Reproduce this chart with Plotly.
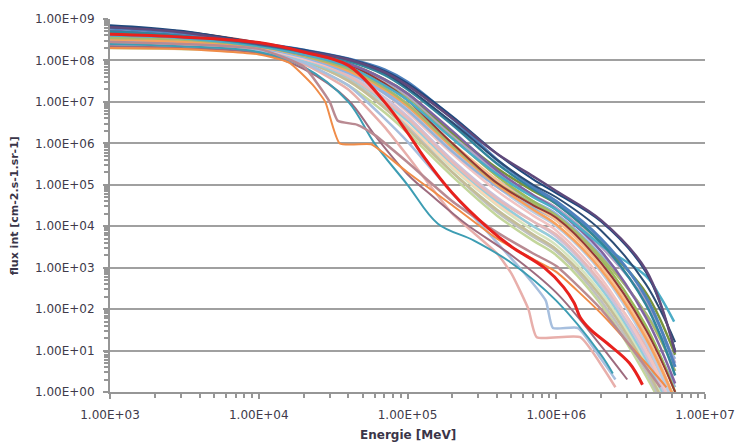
import plotly.graph_objects as go

# Integral flux spectra (cm-2.s-1.sr-1) versus energy (MeV), one curve per event
E_GRID = [1e3, 3e3, 1e4, 2e4, 4e4, 7e4, 1e5, 2e5, 4e5, 7e5, 1e6, 2e6, 4e6, 6.3e6]

flux_navy = [7.1e8, 5.2e8, 2.6e8, 1.8e8, 1.1e8, 5.6e7, 2.8e7, 4.5e6, 5.6e5, 1.35e5, 6.3e4, 1.3e4, 7.9e2, 10]
flux_purple = [6.3e8, 4.8e8, 2.5e8, 1.7e8, 1.05e8, 5.2e7, 2.5e7, 4.0e6, 5.6e5, 1.6e5, 7.1e4, 1.4e4, 8.9e2, 8.9]
flux_blue = [6.0e8, 4.6e8, 2.6e8, 1.8e8, 1.1e8, 6.0e7, 3.0e7, 4.0e6, 4.0e5, 8.9e4, 4.0e4, 5.0e3, 2.0e2, 4.0]
flux_darkteal = [5.0e8, 4.0e8, 2.4e8, 1.6e8, 9.5e7, 4.5e7, 2.0e7, 2.8e6, 3.2e5, 7.9e4, 3.5e4, 4.0e3, 1.3e2, 2.5]
flux_violet = [5.2e8, 4.0e8, 2.3e8, 1.4e8, 8.3e7, 3.5e7, 1.6e7, 2.0e6, 2.2e5, 5.6e4, 2.5e4, 2.5e3, 63, 1.6]
flux_green = [4.0e8, 3.3e8, 2.2e8, 1.4e8, 7.6e7, 2.8e7, 1.3e7, 1.4e6, 1.6e5, 4.0e4, 1.8e4, 1.6e3, 40, 1.0]
flux_peach = [3.5e8, 3.2e8, 2.1e8, 1.3e8, 6.6e7, 2.2e7, 8.9e6, 1.0e6, 1.3e5, 3.2e4, 1.4e4, 1.1e3, 25, 0.63]
flux_iceblue = [2.8e8, 2.6e8, 2.0e8, 1.2e8, 5.6e7, 1.8e7, 7.1e6, 7.1e5, 8.9e4, 2.2e4, 1.0e4, 7.9e2, 16, 0.4]
flux_rose = [3.2e8, 2.8e8, 2.0e8, 1.1e8, 5.0e7, 1.6e7, 5.6e6, 5.6e5, 7.1e4, 1.8e4, 7.9e3, 5.6e2, 10, 0.32]
flux_lavender = [2.5e8, 2.4e8, 1.9e8, 1.1e8, 4.5e7, 1.3e7, 4.5e6, 4.0e5, 5.0e4, 1.3e4, 5.6e3, 4.0e2, 7.9, 0.25]
flux_aqua = [2.8e8, 2.5e8, 1.9e8, 1.0e8, 4.0e7, 1.0e7, 3.5e6, 3.2e5, 4.0e4, 1.0e4, 4.5e3, 3.2e2, 6.3, 0.2]
flux_mint = [2.2e8, 2.1e8, 1.8e8, 1.0e8, 3.5e7, 8.9e6, 2.8e6, 2.5e5, 3.2e4, 7.9e3, 3.5e3, 2.5e2, 5.0, 0.16]
flux_tan = [2.5e8, 2.3e8, 1.7e8, 9.5e7, 3.2e7, 7.1e6, 2.2e6, 2.0e5, 2.5e4, 6.3e3, 2.8e3, 2.0e2, 4.0, 0.13]
flux_salmon = [2.8e8, 2.5e8, 1.9e8, 1.1e8, 4.2e7, 1.1e7, 4.0e6, 3.5e5, 4.5e4, 1.3e4, 6.3e3, 4.5e2, 13, 0.5]
flux_skyblue = [3.2e8, 2.8e8, 2.0e8, 1.3e8, 5.2e7, 1.6e7, 6.3e6, 6.3e5, 8.9e4, 2.8e4, 1.4e4, 1.3e3, 32, 1.3]
flux_olive = [3.5e8, 3.2e8, 2.2e8, 1.3e8, 6.3e7, 2.2e7, 8.9e6, 8.9e5, 1.1e5, 3.5e4, 1.8e4, 1.8e3, 79, 3.2]
flux_maroon = [6.6e8, 5.0e8, 2.7e8, 1.6e8, 7.9e7, 2.8e7, 1.1e7, 1.0e6, 1.1e5, 3.2e4, 1.6e4, 1.3e3, 32, 1.0]
flux_gray = [2.5e8, 2.3e8, 1.8e8, 1.0e8, 3.5e7, 7.9e6, 2.5e6, 2.0e5, 2.2e4, 5.6e3, 2.5e3, 1.6e2, 3.2, 0.1]
flux_lilac = [4.0e8, 3.5e8, 2.3e8, 1.4e8, 7.9e7, 3.2e7, 1.4e7, 1.6e6, 2.0e5, 5.6e4, 2.8e4, 3.2e3, 1.6e2, 5.0]
flux_orange = [3.2e8, 2.8e8, 2.1e8, 1.3e8, 5.6e7, 2.0e7, 7.9e6, 7.9e5, 1.0e5, 2.5e4, 1.1e4, 8.9e2, 20, 0.63]
flux_deepnavy = [6.3e8, 5.0e8, 2.6e8, 1.7e8, 1.05e8, 5.0e7, 2.2e7, 3.2e6, 4.0e5, 1.0e5, 5.0e4, 7.9e3, 4.0e2, 16]
flux_pistachio = [2.0e8, 1.9e8, 1.6e8, 8.3e7, 2.5e7, 5.6e6, 1.8e6, 1.6e5, 1.8e4, 4.5e3, 2.0e3, 1.3e2, 2.5, 0.1]
flux_cornflower = [2.8e8, 2.6e8, 2.0e8, 1.2e8, 5.0e7, 1.8e7, 7.9e6, 8.9e5, 1.3e5, 4.0e4, 2.0e4, 2.0e3, 79, 6.3]
flux_apricot = [2.0e8, 1.9e8, 1.7e8, 9.5e7, 3.2e7, 7.9e6, 2.8e6, 2.8e5, 3.5e4, 1.0e4, 4.5e3, 3.5e2, 10, 0.5]
flux_darkolive = [4.5e8, 3.8e8, 2.3e8, 1.5e8, 8.3e7, 3.5e7, 1.6e7, 1.8e6, 2.5e5, 7.1e4, 3.5e4, 4.0e3, 2.5e2, 7.9]

# Curves sampled on their own energy points
energy_cyan = [1e3, 3e3, 1e4, 2e4, 4e4, 7e4, 1e5, 2e5, 4e5, 7e5, 1e6, 2e6, 4e6, 5e6, 6.2e6]
flux_cyan = [4.0e8, 3.5e8, 2.2e8, 1.4e8, 7.1e7, 2.5e7, 1.1e7, 1.3e6, 1.8e5, 5.0e4, 2.5e4, 3.5e3, 6.3e2, 2.0e2, 50]

energy_orange_step = [1e3, 3e3, 1e4, 1.6e4, 2.3e4, 2.8e4, 3.5e4, 5.7e4, 7e4, 1e5, 2e5, 4e5, 7e5, 1e6, 2e6, 4e6, 5.5e6]
flux_orange_step = [2.0e8, 1.9e8, 1.4e8, 8.9e7, 2.6e7, 1.0e7, 1.0e6, 9.5e5, 5.6e5, 2.0e5, 3.2e4, 5.0e3, 1.6e3, 7.9e2, 79, 5.0, 1.3]

energy_mauve_step = [1e3, 3e3, 1e4, 2e4, 3e4, 3.4e4, 4.6e4, 6e4, 1e5, 2e5, 4e5, 7e5, 1e6, 2e6, 4e6, 5e6]
flux_mauve_step = [2.8e8, 2.5e8, 1.9e8, 7.1e7, 1.0e7, 3.5e6, 2.8e6, 1.6e6, 3.5e5, 4.0e4, 7.1e3, 2.2e3, 1.1e3, 1.0e2, 4.0, 1.3]

energy_teal_low = [1e3, 3e3, 1e4, 2e4, 4e4, 6e4, 1e5, 1.6e5, 2.8e5, 5e5, 1e6, 2e6, 2.4e6]
flux_teal_low = [2.5e8, 2.2e8, 1.6e8, 7.1e7, 1.0e7, 1.0e6, 1.0e5, 1.15e4, 4.5e3, 1.3e3, 1.6e2, 7.9, 2.8]

energy_plum_low = [1e3, 3e3, 1e4, 2e4, 4e4, 6e4, 1e5, 1.5e5, 2.5e5, 5e5, 1e6, 2e6, 3e6]
flux_plum_low = [2.2e8, 2.0e8, 1.5e8, 6.3e7, 1.1e7, 1.6e6, 1.8e5, 5.0e4, 1.1e4, 2.0e3, 2.5e2, 13, 2.0]

energy_pink_step = [1e3, 3e3, 1e4, 2e4, 4e4, 7e4, 1e5, 2e5, 4e5, 5e5, 6.5e5, 7.4e5, 1.45e6, 2.1e6, 2.5e6]
flux_pink_step = [2.2e8, 2.0e8, 1.6e8, 8.3e7, 2.0e7, 2.5e6, 5.0e5, 2.0e4, 2.2e3, 7.2e2, 1.0e2, 21, 21, 3.5, 1.3]

energy_blue_step = [1e3, 3e3, 1e4, 2e4, 4e4, 7e4, 1e5, 2e5, 4e5, 6e5, 8.5e5, 9.5e5, 1.4e6, 2e6, 2.5e6]
flux_blue_step = [2.4e8, 2.1e8, 1.7e8, 8.9e7, 2.5e7, 4.0e6, 1.1e6, 6.3e4, 4.0e3, 7.9e2, 1.6e2, 35, 35, 6.3, 2.0]

energy_red = [1e3, 3e3, 1e4, 2e4, 4e4, 7e4, 1e5, 1.3e5, 2e5, 3.5e5, 5e5, 8.3e5, 1.12e6, 1.32e6, 1.45e6, 1.7e6, 2.2e6, 3.1e6, 3.8e6]
flux_red = [4.3e8, 3.7e8, 2.7e8, 1.6e8, 7.6e7, 1.0e7, 1.8e6, 4.5e5, 6.3e4, 8.9e3, 3.2e3, 1.0e3, 3.4e2, 1.4e2, 63, 32, 15, 5.0, 1.5]

Y_TICKS = [1e0, 1e1, 1e2, 1e3, 1e4, 1e5, 1e6, 1e7, 1e8, 1e9]
Y_LABELS = ["1.00E+00", "1.00E+01", "1.00E+02", "1.00E+03", "1.00E+04",
            "1.00E+05", "1.00E+06", "1.00E+07", "1.00E+08", "1.00E+09"]
X_TICKS = [1e3, 1e4, 1e5, 1e6, 1e7]
X_LABELS = ["1.00E+03", "1.00E+04", "1.00E+05", "1.00E+06", "1.00E+07"]

# (energies, fluxes, colour, width, smoothing) in drawing order
curves = [
    (E_GRID, flux_mint, "#D7E4BD", 2.5, 1.0),
    (E_GRID, flux_apricot, "#FCD5B5", 2.5, 1.0),
    (E_GRID, flux_pistachio, "#C3D69B", 2.5, 1.0),
    (E_GRID, flux_gray, "#BFBFBF", 2.5, 1.0),
    (E_GRID, flux_tan, "#C4BD97", 2.5, 1.0),
    (E_GRID, flux_aqua, "#93CDDD", 2.5, 1.0),
    (E_GRID, flux_lavender, "#CCC1DA", 2.5, 1.0),
    (E_GRID, flux_salmon, "#E6B9B8", 2.5, 1.0),
    (E_GRID, flux_rose, "#F2C4C3", 2.5, 1.0),
    (E_GRID, flux_iceblue, "#B9CDE5", 2.5, 1.0),
    (E_GRID, flux_skyblue, "#95B3D7", 2.5, 1.0),
    (E_GRID, flux_cornflower, "#8EB4E3", 2.5, 1.0),
    (E_GRID, flux_peach, "#FAC090", 2.5, 1.0),
    (E_GRID, flux_orange, "#F7A25E", 2.5, 1.0),
    (E_GRID, flux_green, "#9BBB59", 2.5, 1.0),
    (E_GRID, flux_olive, "#A6B86C", 2.5, 1.0),
    (E_GRID, flux_lilac, "#B3A2C7", 2.5, 1.0),
    (E_GRID, flux_darkolive, "#77933C", 2.5, 1.0),
    (energy_pink_step, flux_pink_step, "#E8AFAB", 2.5, 0.5),
    (energy_blue_step, flux_blue_step, "#A7BFDE", 2.5, 0.5),
    (energy_plum_low, flux_plum_low, "#9E6B7E", 2, 1.0),
    (energy_teal_low, flux_teal_low, "#3D9DB3", 2, 1.0),
    (energy_orange_step, flux_orange_step, "#F08C48", 2, 0.5),
    (energy_mauve_step, flux_mauve_step, "#B98A92", 2.5, 0.5),
    (E_GRID, flux_maroon, "#953735", 2, 1.0),
    (E_GRID, flux_violet, "#8064A2", 2.5, 1.0),
    (energy_cyan, flux_cyan, "#4BACC6", 2.5, 1.0),
    (E_GRID, flux_darkteal, "#31859C", 2.5, 1.0),
    (E_GRID, flux_blue, "#4F81BD", 3, 1.0),
    (E_GRID, flux_deepnavy, "#2C4D75", 2, 1.0),
    (E_GRID, flux_navy, "#1F497D", 2, 1.0),
    (E_GRID, flux_purple, "#5F497A", 2.5, 1.0),
    (energy_red, flux_red, "#E8211D", 3, 1.0),
]

fig = go.Figure()
for energies, fluxes, colour, width, smooth in curves:
    fig.add_trace(go.Scatter(
        x=energies, y=fluxes, mode="lines",
        line=dict(color=colour, width=width, shape="spline", smoothing=smooth),
        showlegend=False, hoverinfo="x+y",
    ))

AXIS_GREY = "#969696"
TICK_FONT = dict(family="DejaVu Sans", size=12, color="#403a4a")

minor_x = [k * 10 ** d for d in range(3, 7) for k in range(2, 10)]
minor_y = [k * 10 ** d for d in range(0, 9) for k in range(2, 10)]

fig.update_layout(
    width=747, height=447,
    margin=dict(l=110, r=30, t=17, b=55),
    paper_bgcolor="white", plot_bgcolor="white",
    xaxis=dict(
        type="log", range=[3, 7],
        tickmode="array", tickvals=X_TICKS, ticktext=X_LABELS,
        ticks="outside", ticklen=5, tickwidth=2, tickcolor=AXIS_GREY,
        ticklabelstandoff=6,
        minor=dict(tickmode="array", tickvals=minor_x, ticks="outside",
                   ticklen=4, tickwidth=1.5, tickcolor=AXIS_GREY, showgrid=False),
        showline=True, linecolor=AXIS_GREY, linewidth=2,
        showgrid=False, zeroline=False, tickfont=TICK_FONT,
    ),
    yaxis=dict(
        type="log", range=[0, 9],
        tickmode="array", tickvals=Y_TICKS, ticktext=Y_LABELS,
        ticks="outside", ticklen=5, tickwidth=2, tickcolor=AXIS_GREY,
        ticklabelstandoff=6,
        minor=dict(tickmode="array", tickvals=minor_y, ticks="outside",
                   ticklen=4, tickwidth=1.5, tickcolor=AXIS_GREY, showgrid=False),
        showline=True, linecolor=AXIS_GREY, linewidth=2,
        showgrid=True, gridcolor="#a0a0a0", gridwidth=2,
        zeroline=False, tickfont=TICK_FONT,
    ),
    annotations=[
        dict(text="Energie [MeV]", xref="paper", yref="paper", x=0.5, y=-0.115,
             xanchor="center", yanchor="middle", showarrow=False,
             font=dict(family="DejaVu Sans", size=12, color="#3a3548", weight="bold")),
        dict(text="flux int [cm-2.s-1.sr-1]", xref="paper", yref="paper",
             x=-0.16, y=0.5, xanchor="center", yanchor="middle", showarrow=False,
             textangle=-90,
             font=dict(family="DejaVu Sans", size=11, color="#3a3548", weight="bold")),
    ],
)

fig.write_html("out.html")
